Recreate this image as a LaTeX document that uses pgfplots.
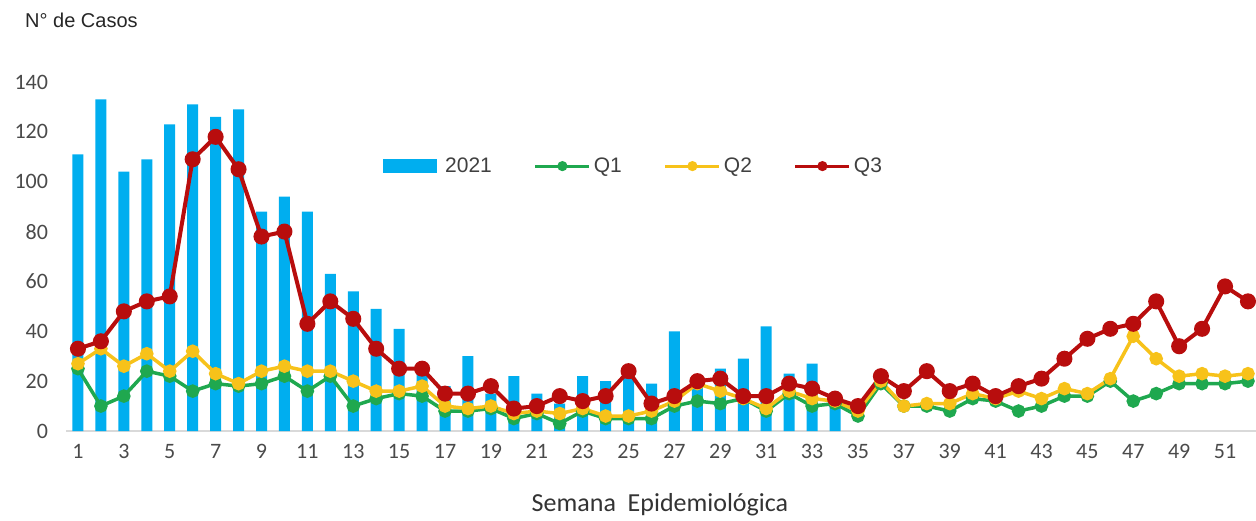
\documentclass[border=0pt]{standalone}
\usepackage{fontspec}
\setmainfont{Carlito}
\newfontfamily\arial{Liberation Sans}
\usepackage{pgfplots}
\pgfplotsset{compat=1.18}

\definecolor{barblue}{HTML}{00AEEF}
\definecolor{qgreen}{HTML}{1FA84F}
\definecolor{qyellow}{HTML}{F7C21A}
\definecolor{qred}{HTML}{B80D0D}
\definecolor{ticktext}{HTML}{4A4A4A}
\definecolor{baseline}{HTML}{D9D9D9}

\begin{document}
\begin{tikzpicture}
\useasboundingbox (-66.5bp,-90bp) rectangle (1189.5bp,431bp);
\begin{axis}[
  scale only axis,
  width=1193bp, height=349bp,
  xmin=0.5, xmax=52.5,
  ymin=0, ymax=140,
  xtick={1,3,...,51},
  ytick={0,20,...,140},
  axis x line*=bottom,
  axis y line*=left,
  x axis line style={draw=baseline, line width=1.5bp},
  y axis line style={draw=none},
  major tick style={draw=none},
  /pgf/number format/assume math mode=true,
  tick label style={font=\fontsize{22bp}{24bp}\selectfont, text=ticktext},
  yticklabel style={xshift=-15bp},
  xticklabel style={yshift=-10bp},
  xlabel={Semana\ \ Epidemiológica},
  xlabel style={font=\fontsize{26bp}{28bp}\selectfont, text=black!80,
    at={(axis description cs:0.5,0)}, anchor=center, yshift=-74bp, xshift=-3bp},
  legend columns=4,
  legend style={
    at={(axis description cs:0.2653,0.759)}, anchor=west,
    draw=none, fill=none, inner sep=0pt,
    font=\arial\fontsize{21bp}{23bp}\selectfont, text=black!75,
    nodes={inner sep=0pt},
    /tikz/every odd column/.append style={column sep=3bp},
    /tikz/every even column/.append style={column sep=42bp},
  },
]

\addplot[ybar, bar width=11bp, bar shift=0pt, fill=barblue, draw=none,
  legend image code/.code={\fill[barblue] (0bp,-7bp) rectangle (54bp,7bp);}]
coordinates {
  (1,111) (2,133) (3,104) (4,109) (5,123) (6,131) (7,126) (8,129)
  (9,88) (10,94) (11,88) (12,63) (13,56) (14,49) (15,41) (16,23)
  (17,18) (18,30) (19,15) (20,22) (21,15) (22,11) (23,22) (24,20)
  (25,22) (26,19) (27,40) (28,20) (29,25) (30,29) (31,42) (32,23)
  (33,27) (34,13)
};
\addlegendentry{\hspace{5bp}2021}

\pgfplotsset{linelegend/.style={legend image code/.code={
  \draw[##1, line width=3bp, mark size=3.5bp, mark repeat=2, mark phase=2]
    plot coordinates {(0bp,0bp) (27bp,0bp) (54bp,0bp)};}}}

\addplot[color=qgreen, line width=3.5bp, mark=*, mark size=5bp, linelegend]
coordinates {
  (1,25) (2,10) (3,14) (4,24) (5,22) (6,16) (7,19) (8,18) (9,19) (10,22)
  (11,16) (12,22) (13,10) (14,13) (15,15) (16,14) (17,8) (18,8) (19,9) (20,5)
  (21,7) (22,3) (23,8) (24,5) (25,5) (26,5) (27,10) (28,12) (29,11) (30,13)
  (31,8) (32,15) (33,10) (34,11) (35,6) (36,19) (37,10) (38,10) (39,8) (40,13)
  (41,12) (42,8) (43,10) (44,14) (45,14) (46,20) (47,12) (48,15) (49,19) (50,19)
  (51,19) (52,20)
};
\addlegendentry{Q1}

\addplot[color=qyellow, line width=3.5bp, mark=*, mark size=5bp, linelegend]
coordinates {
  (1,27) (2,33) (3,26) (4,31) (5,24) (6,32) (7,23) (8,19) (9,24) (10,26)
  (11,24) (12,24) (13,20) (14,16) (15,16) (16,18) (17,10) (18,9) (19,10) (20,7)
  (21,8) (22,7) (23,9) (24,6) (25,6) (26,8) (27,12) (28,19) (29,16) (30,13)
  (31,9) (32,16) (33,13) (34,12) (35,8) (36,20) (37,10) (38,11) (39,11) (40,15)
  (41,13) (42,16) (43,13) (44,17) (45,15) (46,21) (47,38) (48,29) (49,22) (50,23)
  (51,22) (52,23)
};
\addlegendentry{Q2}

\addplot[color=qred, line width=4bp, mark=*, mark size=6bp, linelegend]
coordinates {
  (1,33) (2,36) (3,48) (4,52) (5,54) (6,109) (7,118) (8,105) (9,78) (10,80)
  (11,43) (12,52) (13,45) (14,33) (15,25) (16,25) (17,15) (18,15) (19,18) (20,9)
  (21,10) (22,14) (23,12) (24,14) (25,24) (26,11) (27,14) (28,20) (29,21) (30,14)
  (31,14) (32,19) (33,17) (34,13) (35,10) (36,22) (37,16) (38,24) (39,16) (40,19)
  (41,14) (42,18) (43,21) (44,29) (45,37) (46,41) (47,43) (48,52) (49,34) (50,41)
  (51,58) (52,52)
};
\addlegendentry{Q3}

\end{axis}
\node[anchor=west, inner sep=0pt, font=\arial\fontsize{20bp}{22bp}\selectfont, text=black!85]
  at (-41.5bp,411bp) {N° de Casos};
\end{tikzpicture}
\end{document}
